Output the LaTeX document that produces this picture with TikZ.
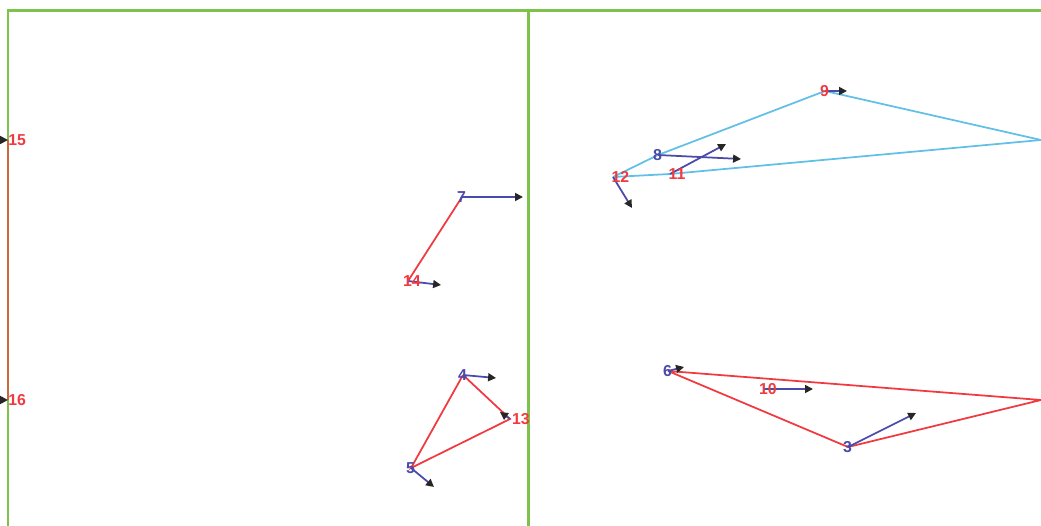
\documentclass[tikz,border=0pt]{standalone}
\usepackage{fontspec}
\setmainfont{Liberation Sans}
\usepackage{tikz}
\usetikzlibrary{arrows.meta}
\definecolor{frgreen}{HTML}{7DC24A}
\definecolor{lnred}{HTML}{F03A40}
\definecolor{lncyan}{HTML}{62C0E6}
\definecolor{arblue}{HTML}{4A4AAA}
\definecolor{lnbrown}{HTML}{C86A3A}
\tikzset{
  redtag/.style={text=lnred, font=\small\bfseries, anchor=west, inner sep=0pt, xshift=-3pt},
  bluetag/.style={text=arblue, font=\small\bfseries, anchor=west, inner sep=0pt, xshift=-3pt},
  heading/.style={arblue, line width=1pt, -{Triangle[length=4.5pt, width=4.5pt, fill=black!85, color=black!85]}},
  redlink/.style={lnred, line width=1pt},
  cyanlink/.style={lncyan, line width=1pt}
}

\begin{document}
\begin{tikzpicture}[x=0.02cm, y=-0.02cm]
\useasboundingbox (0,0) rectangle (1041,526);
% frame
\draw[frgreen, line width=1.7pt] (8,526) |- (1041,11);
\draw[frgreen, line width=1.7pt] (528,11) -- (528,526);
% points
\coordinate (n15) at (8,140);
\coordinate (n16) at (8,400);
\coordinate (n7) at (462,197);
\coordinate (n14) at (408,281);
\coordinate (n4) at (463,375);
\coordinate (n13) at (510,419);
\coordinate (n5) at (411,468);
\coordinate (n12) at (613,177);
\coordinate (n8) at (658,155);
\coordinate (n11) at (670,174);
\coordinate (n9) at (825,91);
\coordinate (c1) at (1041,140);
\coordinate (n6) at (668,371);
\coordinate (n10) at (764,389);
\coordinate (n3) at (848,447);
\coordinate (c2) at (1041,400);
% heading ends
\coordinate (h15) at (1,140);
\coordinate (h16) at (1,400);
\coordinate (h7) at (523,197);
\coordinate (h14) at (441,285);
\coordinate (h4) at (496,378);
\coordinate (h13) at (500,412);
\coordinate (h5) at (434,487);
\coordinate (h12) at (632,208);
\coordinate (h8) at (741,159);
\coordinate (h11) at (726,144);
\coordinate (h9) at (847,91);
\coordinate (h6) at (684,367);
\coordinate (h10) at (813,389);
\coordinate (h3) at (916,413);
% links
\draw[lnbrown, line width=1.3pt] (n15) -- (n16);
\draw[redlink] (n7) -- (n14);
\draw[redlink] (n4) -- (n5) -- (n13) -- (n4);
\draw[cyanlink] (n12) -- (n8) -- (n9) -- (c1);
\draw[cyanlink] (n12) -- (n11) -- (c1);
\draw[redlink] (n6) -- (c2) -- (n3) -- (n6);
% headings
\draw[heading] (h15) -- (n15);
\draw[heading] (h16) -- (n16);
\draw[heading] (n7) -- (h7);
\draw[heading] (n14) -- (h14);
\draw[heading] (n4) -- (h4);
\draw[heading] (n13) -- (h13);
\draw[heading] (n5) -- (h5);
\draw[heading] (n12) -- (h12);
\draw[heading] (n8) -- (h8);
\draw[heading] (n11) -- (h11);
\draw[heading] (n9) -- (h9);
\draw[heading] (n6) -- (h6);
\draw[heading] (n10) -- (h10);
\draw[heading] (n3) -- (h3);
% tags
\node[redtag, xshift=3pt] (t15) at (n15) {15};
\node[redtag, xshift=3pt] (t16) at (n16) {16};
\node[bluetag] (t7) at (n7) {7};
\node[redtag] (t14) at (n14) {14};
\node[bluetag] (t4) at (n4) {4};
\node[redtag, xshift=4pt] (t13) at (n13) {13};
\node[bluetag] (t5) at (n5) {5};
\node[redtag, xshift=2pt] (t12) at (n12) {12};
\node[bluetag] (t8) at (n8) {8};
\node[redtag, xshift=2pt] (t11) at (n11) {11};
\node[redtag] (t9) at (n9) {9};
\node[bluetag] (t6) at (n6) {6};
\node[redtag] (t10) at (n10) {10};
\node[bluetag] (t3) at (n3) {3};
\end{tikzpicture}
\end{document}
